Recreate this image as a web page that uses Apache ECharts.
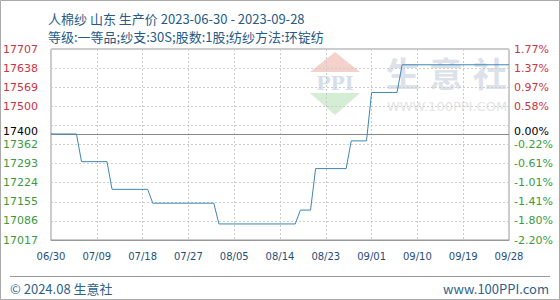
<!DOCTYPE html>
<html><head><meta charset="utf-8">
<script src="https://cdn.jsdelivr.net/npm/echarts@6/dist/echarts.min.js"></script>
<style>html,body{margin:0;padding:0;background:#fff}#c{width:560px;height:300px}</style>
</head><body><div id="c"></div>
<script>
const titleLine1 = '人棉纱 山东 生产价 2023-06-30 - 2023-09-28';
const titleLine2 = '等级:一等品;纱支:30S;股数:1股;纺纱方法:环锭纺';
const footerLeft = '© 2024.08 生意社';
const footerRight = 'www.100PPI.com';
const startDate = '2023-06-30';
const endDate = '2023-09-28';
const baseValue = 17400;
const gridValues = [17017, 17086, 17155, 17224, 17293, 17362, 17431, 17500, 17569, 17638, 17707];
const priceLabels = [17017, 17086, 17155, 17224, 17293, 17362, 17400, 17500, 17569, 17638, 17707];
const pctLabels = ['-2.20%', '-1.80%', '-1.41%', '-1.01%', '-0.61%', '-0.22%', '0.00%', '0.58%', '0.97%', '1.37%', '1.77%'];
const changeDates = ['06/30','07/05','07/06','07/11','07/12','07/19','07/20','08/01','08/02','08/17','08/18','08/20','08/21','08/27','08/28','08/31','09/01','09/06','09/07','09/28'];
const changeValues = [17400,17400,17300,17300,17200,17200,17150,17150,17075,17075,17125,17125,17275,17275,17375,17375,17550,17550,17650,17650];

// daily categories between start and end
const categories = [];
(function () {
  const d = new Date(startDate + 'T00:00:00Z');
  const e = new Date(endDate + 'T00:00:00Z');
  while (d <= e) {
    const mm = String(d.getUTCMonth() + 1).padStart(2, '0');
    const dd = String(d.getUTCDate()).padStart(2, '0');
    categories.push(mm + '/' + dd);
    d.setUTCDate(d.getUTCDate() + 1);
  }
})();
const seriesData = changeDates.map((c, i) => [c, changeValues[i]]);

const RED = '#cc3344', GREEN = '#3c9a3c', BLACK = '#000';
const labelFont = 'DejaVu Sans';
function richStyles() {
  return {
    r: { color: RED, fontSize: 11, lineHeight: 10, fontFamily: labelFont },
    g: { color: GREEN, fontSize: 11, lineHeight: 10, fontFamily: labelFont },
    k: { color: BLACK, fontSize: 11, lineHeight: 10, fontFamily: labelFont, padding: [0, 0, 5, 0] }
  };
}
function tagFor(v) { return v > baseValue ? 'r' : (v < baseValue ? 'g' : 'k'); }

const chart = echarts.init(document.getElementById('c'), null, { renderer: 'svg' });
chart.setOption({
  animation: false,
  backgroundColor: '#fff',
  grid: { left: 50, right: 51, top: 49, bottom: 60, show: true, borderColor: '#999', borderWidth: 1, containLabel: false },
  xAxis: {
    type: 'category', data: categories, boundaryGap: false,
    axisLine: { show: true, lineStyle: { color: '#999' } },
    axisTick: { show: false },
    axisLabel: { interval: 8, color: '#1f4e79', fontSize: 10, fontFamily: labelFont, margin: 11 },
    splitLine: { show: true, interval: 8, lineStyle: { color: '#ccc', type: [2, 2] } }
  },
  yAxis: [
    {
      type: 'value', min: gridValues[0], max: gridValues[gridValues.length - 1], position: 'left',
      axisLine: { show: false }, axisTick: { show: false, customValues: gridValues },
      splitLine: { show: true, lineStyle: { color: '#ccc', type: [2, 2] } },
      axisLabel: { customValues: priceLabels, margin: 13, lineHeight: 10, formatter: v => '{' + tagFor(v) + '|' + v + '}', rich: richStyles() }
    },
    {
      type: 'value', min: gridValues[0], max: gridValues[gridValues.length - 1], position: 'right',
      axisLine: { show: false }, axisTick: { show: false, customValues: gridValues },
      splitLine: { show: false },
      axisLabel: { customValues: priceLabels, margin: 5, lineHeight: 10, formatter: v => { const i = priceLabels.indexOf(v); return '{' + tagFor(v) + '|' + (i >= 0 ? pctLabels[i] : '') + '}'; }, rich: richStyles() }
    }
  ],
  series: [{
    type: 'line', data: seriesData, showSymbol: false, symbol: 'none', z: 5,
    lineStyle: { color: '#3f86b5', width: 1 },
    markLine: { silent: true, symbol: 'none', label: { show: false }, lineStyle: { color: '#888', type: 'solid', width: 1 }, data: [{ yAxis: baseValue }] }
  }],
  graphic: [
    { type: 'rect', z: -20, shape: { x: 0.5, y: 0.5, width: 559, height: 299 }, style: { fill: 'none', stroke: '#aaa', lineWidth: 1 } },
    { type: 'polygon', z: -10, shape: { points: [[310, 72], [335, 52], [360, 72]] }, style: { fill: '#f4d2cb' } },
    { type: 'text', z: -10, style: { x: 335, y: 83, text: 'PPI', fill: '#d6deeb', fontSize: 19, fontWeight: 'bold', fontFamily: 'DejaVu Serif', align: 'center', verticalAlign: 'middle' } },
    { type: 'polygon', z: -10, shape: { points: [[310, 93], [360, 93], [335, 115]] }, style: { fill: '#d5ecd5' } },
    { type: 'text', z: -10, style: { x: 403, y: 72, text: '生', fill: '#dce1ea', fontSize: 34, fontWeight: 'bold', fontFamily: 'Noto Sans CJK SC', align: 'center', verticalAlign: 'middle' } },
    { type: 'text', z: -10, style: { x: 446, y: 72, text: '意', fill: '#dce1ea', fontSize: 34, fontWeight: 'bold', fontFamily: 'Noto Sans CJK SC', align: 'center', verticalAlign: 'middle' } },
    { type: 'text', z: -10, style: { x: 490, y: 72, text: '社', fill: '#dce1ea', fontSize: 34, fontWeight: 'bold', fontFamily: 'Noto Sans CJK SC', align: 'center', verticalAlign: 'middle' } },
    { type: 'text', z: -10, style: { x: 447, y: 106, text: 'WWW.100PPI.COM', fill: '#e4e4e4', fontSize: 13, fontFamily: 'DejaVu Sans', align: 'center', verticalAlign: 'middle' } },
    { type: 'text', style: { x: 48, y: 18, text: titleLine1, fill: '#275a86', fontSize: 13, fontFamily: 'Noto Sans CJK SC', verticalAlign: 'middle' } },
    { type: 'text', style: { x: 48, y: 36, text: titleLine2, fill: '#275a86', fontSize: 13, fontFamily: 'Noto Sans CJK SC', verticalAlign: 'middle' } },
    { type: 'line', shape: { x1: 10, y1: 276.5, x2: 550, y2: 276.5 }, style: { stroke: '#999', lineWidth: 1 } },
    { type: 'text', style: { x: 10, y: 288, text: footerLeft, fill: '#2f5f8c', fontSize: 13, fontFamily: 'Noto Sans CJK SC', verticalAlign: 'middle' } },
    { type: 'text', style: { x: 549, y: 288, text: footerRight, fill: '#2f5f8c', fontSize: 13, fontFamily: 'Noto Sans CJK SC', align: 'right', verticalAlign: 'middle' } }
  ]
});
</script>
</body></html>
